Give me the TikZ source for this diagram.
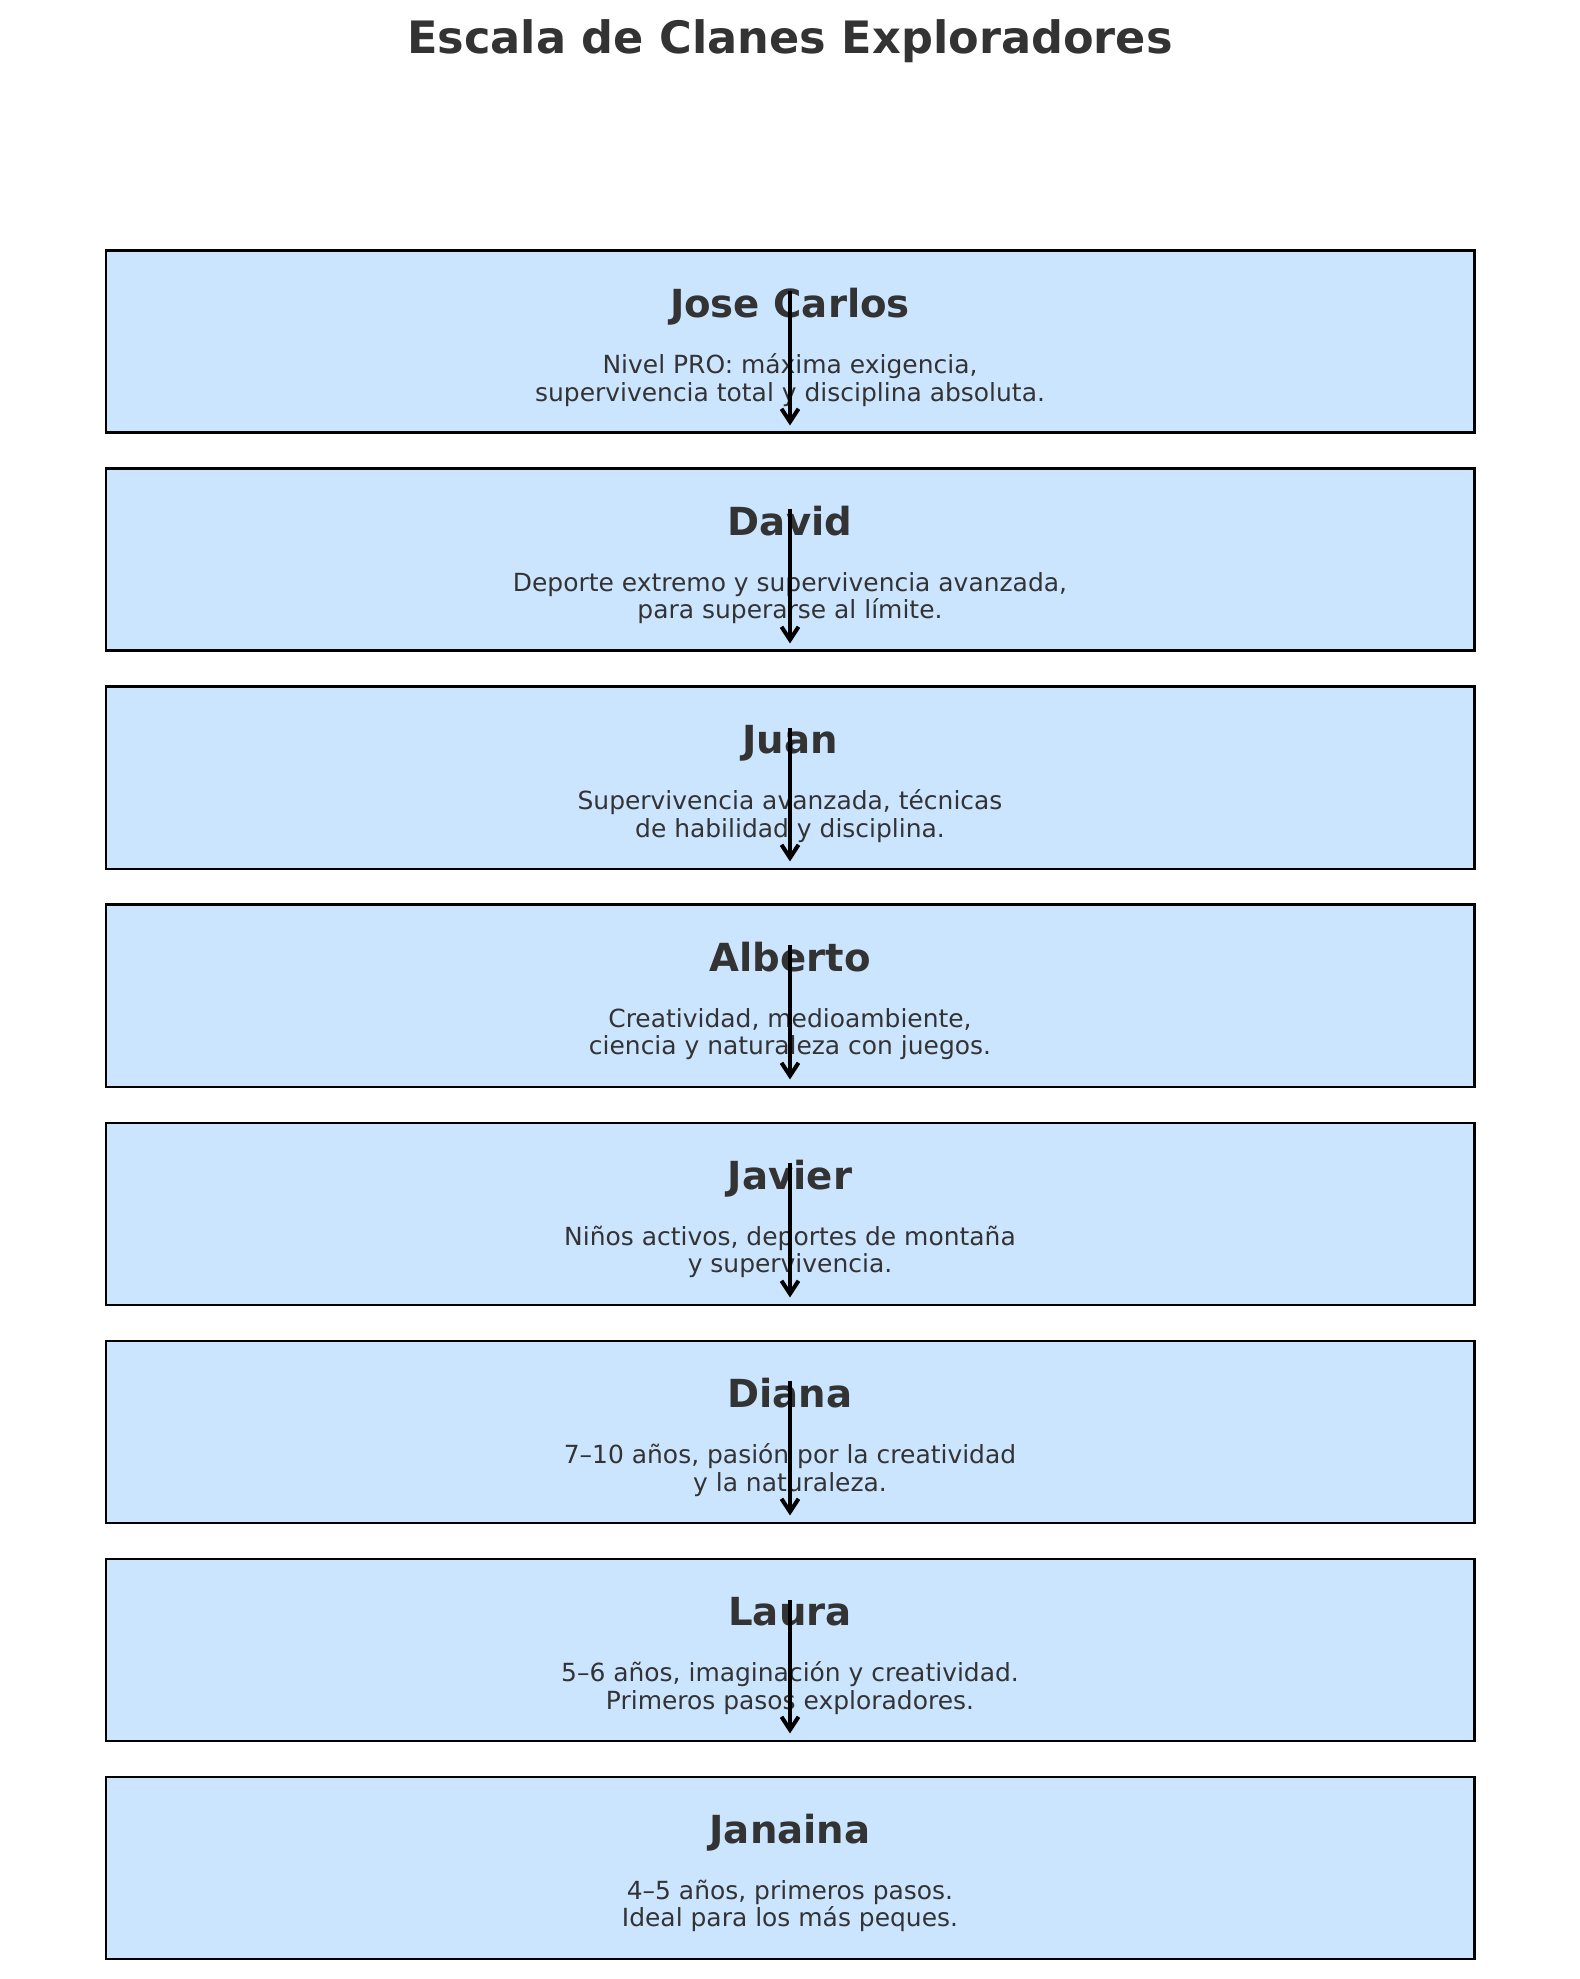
\documentclass[tikz,border=0pt]{standalone}
\usepackage{fontspec}
\setmainfont{DejaVu Sans}
\usetikzlibrary{arrows.meta}

\definecolor{clanblue}{HTML}{CCE5FF}
\definecolor{inkgray}{HTML}{333333}

\tikzset{
  clanbox/.style={draw=black, line width=0.85pt, fill=clanblue, rectangle,
    minimum width=13.68cm, minimum height=1.82cm, inner sep=0pt},
  clanname/.style={anchor=base, inner sep=0pt, text=inkgray,
    font=\fontsize{11}{13}\selectfont\bfseries},
  clandesc/.style={anchor=center, inner sep=0pt, text=inkgray, align=center,
    font=\fontsize{7.1}{7.77}\selectfont},
  down/.style={line width=1.15pt, -{Straight Barb[length=0.13cm,width=0.17cm]},
    shorten <=0.03cm, shorten >=0.09cm}
}

\begin{document}
\begin{tikzpicture}
    \useasboundingbox (0,0) rectangle (15.8,19.79);
    % Title
    \node[anchor=base, inner sep=0pt, text=inkgray, font=\fontsize{12.7}{15}\selectfont\bfseries]
      (title) at (7.9,19.257) {Escala de Clanes Exploradores};
    % Clan boxes
    \node[clanbox] (jose) at (7.9,16.37) {};
    \node[clanbox] (david) at (7.9,14.19) {};
    \node[clanbox] (juan) at (7.9,12.01) {};
    \node[clanbox] (alberto) at (7.9,9.83) {};
    \node[clanbox] (javier) at (7.9,7.65) {};
    \node[clanbox] (diana) at (7.9,5.47) {};
    \node[clanbox] (laura) at (7.9,3.29) {};
    \node[clanbox] (janaina) at (7.9,1.11) {};
    % Names
    \node[clanname] (jose-n) at (7.9,16.61) {Jose Carlos};
    \node[clanname] (david-n) at (7.9,14.43) {David};
    \node[clanname] (juan-n) at (7.9,12.25) {Juan};
    \node[clanname] (alberto-n) at (7.9,10.07) {Alberto};
    \node[clanname] (javier-n) at (7.9,7.89) {Javier};
    \node[clanname] (diana-n) at (7.9,5.71) {Diana};
    \node[clanname] (laura-n) at (7.9,3.53) {Laura};
    \node[clanname] (janaina-n) at (7.9,1.35) {Janaina};
    % Descriptions
    \node[clandesc] (jose-d) at (7.9,15.99) {Nivel PRO: máxima exigencia,\\supervivencia total y disciplina absoluta.};
    \node[clandesc] (david-d) at (7.9,13.81) {Deporte extremo y supervivencia avanzada,\\para superarse al límite.};
    \node[clandesc] (juan-d) at (7.9,11.63) {Supervivencia avanzada, técnicas\\de habilidad y disciplina.};
    \node[clandesc] (alberto-d) at (7.9,9.45) {Creatividad, medioambiente,\\ciencia y naturaleza con juegos.};
    \node[clandesc] (javier-d) at (7.9,7.27) {Niños activos, deportes de montaña\\y supervivencia.};
    \node[clandesc] (diana-d) at (7.9,5.09) {7–10 años, pasión por la creatividad\\y la naturaleza.};
    \node[clandesc] (laura-d) at (7.9,2.91) {5–6 años, imaginación y creatividad.\\Primeros pasos exploradores.};
    \node[clandesc] (janaina-d) at (7.9,0.73) {4–5 años, primeros pasos.\\Ideal para los más peques.};
    % Arrows
    \draw[down] (jose-n.north) -- (jose.south);
    \draw[down] (david-n.north) -- (david.south);
    \draw[down] (juan-n.north) -- (juan.south);
    \draw[down] (alberto-n.north) -- (alberto.south);
    \draw[down] (javier-n.north) -- (javier.south);
    \draw[down] (diana-n.north) -- (diana.south);
    \draw[down] (laura-n.north) -- (laura.south);
\end{tikzpicture}
\end{document}
